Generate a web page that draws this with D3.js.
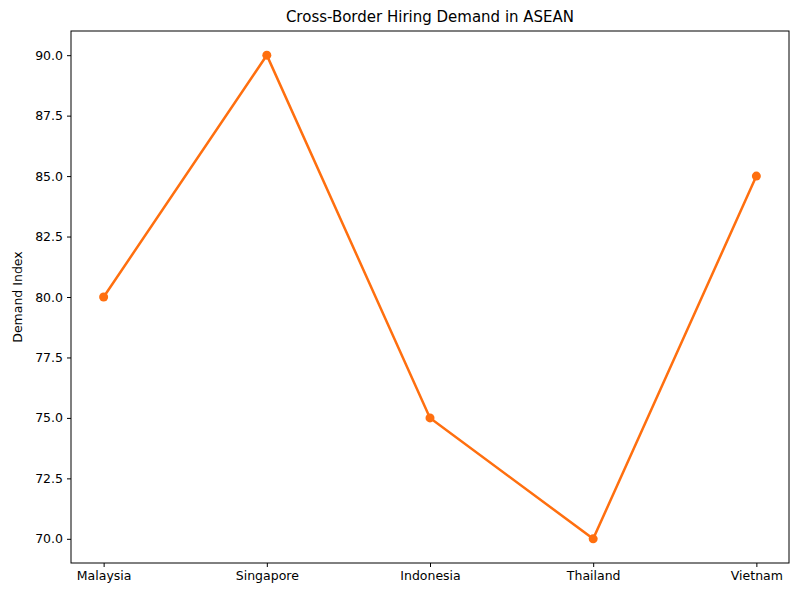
<!DOCTYPE html>
<html><head><meta charset="utf-8">
<script src="https://cdn.jsdelivr.net/npm/d3@7"></script>
<style>body{margin:0;background:#fff;font-family:"DejaVu Sans",sans-serif;}</style>
</head><body><div id="chart"></div>
<script>
var countries = ["Malaysia", "Singapore", "Indonesia", "Thailand", "Vietnam"];
var demand = [80, 90, 75, 70, 85];
var yTicks = [70, 72.5, 75, 77.5, 80, 82.5, 85, 87.5, 90];

var width = 800, height = 597,
	margin = { left: 71, right: 11, top: 31, bottom: 34 };

var svg = d3.select("#chart").append("svg")
	.attr("width", width)
	.attr("height", height);

var x = d3.scalePoint()
	.domain(countries)
	.range([margin.left, width - margin.right])
	.padding(0.2);

var y = d3.scaleLinear()
	.domain([69, 91])
	.range([height - margin.bottom, margin.top]);

// axes
svg.append("g")
	.attr("transform", "translate(0," + (height - margin.bottom) + ")")
	.call(d3.axisBottom(x).tickSize(4).tickPadding(4))
	.call(function(g) { g.select(".domain").remove(); })
	.selectAll("text").attr("font-size", 12.5).attr("fill", "#000").attr("font-family", "DejaVu Sans");

svg.append("g")
	.attr("transform", "translate(" + margin.left + ",0)")
	.call(d3.axisLeft(y).tickValues(yTicks).tickFormat(d3.format(".1f")).tickSize(4).tickPadding(4))
	.call(function(g) { g.select(".domain").remove(); })
	.selectAll("text").attr("font-size", 12.5).attr("fill", "#000").attr("font-family", "DejaVu Sans");

svg.append("rect")
	.attr("x", margin.left).attr("y", margin.top)
	.attr("width", width - margin.left - margin.right)
	.attr("height", height - margin.top - margin.bottom)
	.attr("fill", "none").attr("stroke", "#000").attr("stroke-width", 1);

// line + markers
var line = d3.line()
	.x(function(d, i) { return x(countries[i]); })
	.y(function(d) { return y(d); });

svg.append("path")
	.datum(demand)
	.attr("d", line)
	.attr("fill", "none")
	.attr("stroke", "#ff6f0f")
	.attr("stroke-width", 2.5);

svg.selectAll("circle.pt")
	.data(demand)
	.enter()
	.append("circle")
	.attr("class", "pt")
	.attr("cx", function(d, i) { return x(countries[i]); })
	.attr("cy", function(d) { return y(d); })
	.attr("r", 4.5)
	.attr("fill", "#ff6f0f");

// labels
svg.append("text")
	.attr("x", (margin.left + width - margin.right) / 2).attr("y", 22)
	.attr("text-anchor", "middle").attr("font-size", 15)
	.text("Cross-Border Hiring Demand in ASEAN");

svg.append("text")
	.attr("transform", "translate(22," + ((margin.top + height - margin.bottom) / 2) + ") rotate(-90)")
	.attr("text-anchor", "middle").attr("font-size", 12.5)
	.text("Demand Index");
</script></body></html>
